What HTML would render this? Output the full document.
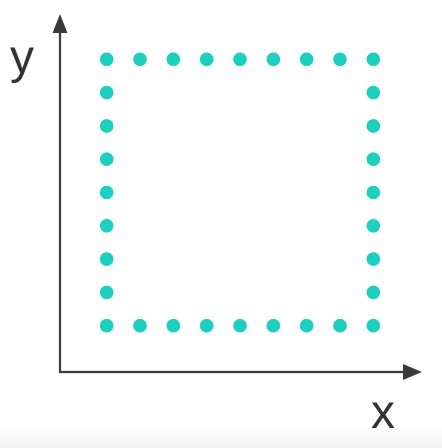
<!DOCTYPE html>
<html><head><meta charset="utf-8"><style>
html,body{margin:0;padding:0;width:442px;height:448px;overflow:hidden;background:#fff}
svg{display:block}
</style></head><body>
<svg id="chart" width="442" height="448" viewBox="0 0 442 448">
<defs><linearGradient id="bg" x1="0" y1="0" x2="0" y2="1"><stop offset="0" stop-color="#fff"/><stop offset="1" stop-color="#f1f1f1"/></linearGradient></defs>
<rect x="0" y="425" width="442" height="23" fill="url(#bg)"/>
<line x1="60" y1="30" x2="60" y2="372" stroke="#3a3a3a" stroke-width="2.2"/>
<polygon points="60,14 52.5,33 67.5,33" fill="#3a3a3a"/>
<line x1="59" y1="372" x2="406" y2="372" stroke="#3a3a3a" stroke-width="2.2"/>
<polygon points="422,372 403,364 403,380" fill="#3a3a3a"/>
<text x="10" y="73" font-family="Liberation Sans, sans-serif" font-size="48" fill="#333">y</text>
<text x="371" y="428" font-family="Liberation Sans, sans-serif" font-size="48" fill="#333">x</text>
<g id="dots"></g>
</svg>
<script>
const xs = [0,1,2,3,4,5,6,7,8, 8,8,8,8,8,8,8,8, 7,6,5,4,3,2,1,0, 0,0,0,0,0,0,0];
const ys = [8,8,8,8,8,8,8,8,8, 7,6,5,4,3,2,1,0, 0,0,0,0,0,0,0,0, 1,2,3,4,5,6,7];
function sx(v){return 106.7 + v*33.33;}
function sy(v){return 325.7 - v*33.3;}
const g = document.getElementById('dots');
for (let i=0;i<xs.length;i++){
  const c = document.createElementNS('http://www.w3.org/2000/svg','circle');
  c.setAttribute('cx', sx(xs[i]));
  c.setAttribute('cy', sy(ys[i]));
  c.setAttribute('r', 6.8);
  c.setAttribute('fill', '#1ccfbf');
  
  
  g.appendChild(c);
}
</script>
</body></html>
